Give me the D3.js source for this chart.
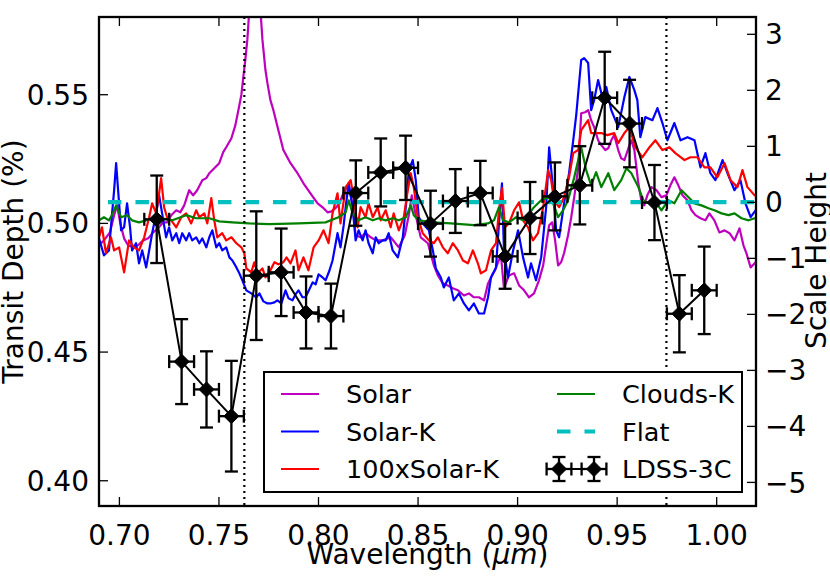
<!DOCTYPE html>
<html><head><meta charset="utf-8">
<script src="https://cdn.jsdelivr.net/npm/d3@7"></script>
<style>
body{margin:0;background:#fff}
svg{display:block}
text{font-family:"DejaVu Sans",sans-serif}
</style>
</head><body>
<svg id="c" width="830" height="581"></svg>
<script>
// ---------- DATA ----------
const xTicks = [0.70, 0.75, 0.80, 0.85, 0.90, 0.95, 1.00];
const yTicks = [0.40, 0.45, 0.50, 0.55];
const y2Ticks = [-5, -4, -3, -2, -1, 0, 1, 2, 3];
const xDomain = [0.69, 1.02];
const yDomain = [0.39, 0.58];
const y2Domain = [-5.43, 3.30];

const solar = [[0.6900,0.4913],[0.6925,0.4932],[0.6955,0.4963],[0.6976,0.5030],[0.6991,0.5068],[0.7006,0.5002],[0.7026,0.4940],[0.7046,0.4913],[0.7071,0.4905],[0.7096,0.4913],[0.7122,0.4932],[0.7147,0.4940],[0.7172,0.4963],[0.7197,0.4979],[0.7222,0.5002],[0.7242,0.5002],[0.7263,0.5030],[0.7288,0.5049],[0.7308,0.5041],[0.7328,0.5068],[0.7353,0.5127],[0.7373,0.5107],[0.7393,0.5127],[0.7419,0.5166],[0.7439,0.5174],[0.7454,0.5193],[0.7479,0.5212],[0.7504,0.5232],[0.7524,0.5275],[0.7539,0.5294],[0.7565,0.5329],[0.7585,0.5380],[0.7600,0.5438],[0.7615,0.5497],[0.7625,0.5567],[0.7635,0.5633],[0.7645,0.5711],[0.7650,0.5769],[0.7655,0.5827],[0.7665,0.6800],[0.7682,0.6400],[0.7700,0.6800],[0.7711,0.5827],[0.7721,0.5711],[0.7736,0.5594],[0.7746,0.5543],[0.7761,0.5477],[0.7776,0.5438],[0.7801,0.5360],[0.7826,0.5283],[0.7862,0.5232],[0.7897,0.5193],[0.7927,0.5154],[0.7962,0.5115],[0.7998,0.5076],[0.8028,0.5057],[0.8048,0.5041],[0.8068,0.5045],[0.8093,0.5061],[0.8113,0.5088],[0.8134,0.5127],[0.8154,0.5146],[0.8174,0.5068],[0.8189,0.4952],[0.8214,0.4944],[0.8239,0.4960],[0.8265,0.4944],[0.8290,0.4932],[0.8325,0.4932],[0.8365,0.4944],[0.8406,0.4905],[0.8436,0.4952],[0.8456,0.5030],[0.8471,0.5107],[0.8491,0.5030],[0.8516,0.4944],[0.8552,0.4921],[0.8582,0.4835],[0.8602,0.4796],[0.8627,0.4765],[0.8652,0.4757],[0.8677,0.4746],[0.8703,0.4738],[0.8733,0.4718],[0.8758,0.4726],[0.8783,0.4711],[0.8808,0.4711],[0.8834,0.4699],[0.8854,0.4765],[0.8874,0.4796],[0.8889,0.4816],[0.8904,0.4847],[0.8919,0.4874],[0.8934,0.4746],[0.8959,0.4796],[0.8985,0.4804],[0.9010,0.4757],[0.9035,0.4738],[0.9060,0.4711],[0.9085,0.4726],[0.9110,0.4777],[0.9131,0.4835],[0.9146,0.4913],[0.9161,0.4991],[0.9176,0.5002],[0.9191,0.4932],[0.9206,0.4835],[0.9221,0.4847],[0.9236,0.4882],[0.9256,0.4952],[0.9272,0.5022],[0.9292,0.5127],[0.9307,0.5216],[0.9322,0.5426],[0.9342,0.5430],[0.9357,0.5438],[0.9372,0.5399],[0.9387,0.5372],[0.9407,0.5321],[0.9423,0.5302],[0.9443,0.5283],[0.9458,0.5290],[0.9473,0.5321],[0.9488,0.5341],[0.9508,0.5283],[0.9523,0.5251],[0.9539,0.5244],[0.9559,0.5290],[0.9574,0.5321],[0.9589,0.5283],[0.9609,0.5154],[0.9624,0.5088],[0.9639,0.5068],[0.9654,0.5107],[0.9675,0.5139],[0.9700,0.5127],[0.9725,0.5100],[0.9750,0.5107],[0.9770,0.5146],[0.9790,0.5177],[0.9810,0.5146],[0.9831,0.5107],[0.9856,0.5088],[0.9876,0.5049],[0.9896,0.5030],[0.9921,0.5018],[0.9946,0.5010],[0.9966,0.5037],[0.9991,0.5010],[1.0016,0.4963],[1.0042,0.4971],[1.0067,0.4960],[1.0092,0.4932],[1.0117,0.4979],[1.0137,0.4913],[1.0152,0.4882],[1.0173,0.4827],[1.0198,0.4847],[1.0210,0.4850]];

const solarK = [[0.6900,0.4940],[0.6925,0.4874],[0.6950,0.4893],[0.6965,0.5030],[0.6976,0.5127],[0.6986,0.5232],[0.6996,0.5127],[0.7011,0.4971],[0.7026,0.4983],[0.7041,0.5076],[0.7056,0.4983],[0.7066,0.4893],[0.7086,0.4921],[0.7101,0.4843],[0.7117,0.4893],[0.7137,0.4827],[0.7152,0.4893],[0.7167,0.4960],[0.7187,0.5037],[0.7202,0.5107],[0.7217,0.5037],[0.7237,0.4944],[0.7252,0.4983],[0.7268,0.4932],[0.7288,0.4960],[0.7303,0.4921],[0.7318,0.4960],[0.7338,0.4932],[0.7353,0.4960],[0.7368,0.4932],[0.7388,0.4944],[0.7404,0.4921],[0.7419,0.4940],[0.7439,0.4905],[0.7454,0.4944],[0.7469,0.4971],[0.7489,0.4905],[0.7504,0.4921],[0.7519,0.4893],[0.7539,0.4905],[0.7555,0.4866],[0.7570,0.4854],[0.7590,0.4827],[0.7605,0.4804],[0.7620,0.4777],[0.7640,0.4738],[0.7665,0.4726],[0.7690,0.4711],[0.7706,0.4726],[0.7726,0.4695],[0.7746,0.4687],[0.7761,0.4687],[0.7781,0.4691],[0.7796,0.4699],[0.7816,0.4687],[0.7837,0.4738],[0.7852,0.4707],[0.7872,0.4699],[0.7887,0.4722],[0.7902,0.4738],[0.7922,0.4711],[0.7937,0.4711],[0.7952,0.4734],[0.7973,0.4769],[0.7988,0.4761],[0.8003,0.4800],[0.8023,0.4788],[0.8038,0.4777],[0.8058,0.4816],[0.8073,0.4854],[0.8098,0.4960],[0.8113,0.4905],[0.8129,0.4991],[0.8139,0.5061],[0.8154,0.5154],[0.8174,0.5061],[0.8189,0.4932],[0.8204,0.4971],[0.8224,0.4932],[0.8239,0.4971],[0.8254,0.4921],[0.8275,0.4882],[0.8290,0.4944],[0.8305,0.4921],[0.8325,0.4932],[0.8340,0.4932],[0.8355,0.4960],[0.8375,0.4893],[0.8401,0.4866],[0.8426,0.4944],[0.8441,0.5061],[0.8456,0.5205],[0.8476,0.5244],[0.8491,0.5166],[0.8506,0.5022],[0.8526,0.4998],[0.8557,0.4971],[0.8577,0.4893],[0.8592,0.4823],[0.8617,0.4788],[0.8632,0.4749],[0.8657,0.4788],[0.8682,0.4699],[0.8708,0.4726],[0.8733,0.4687],[0.8758,0.4660],[0.8783,0.4687],[0.8808,0.4648],[0.8834,0.4648],[0.8854,0.4711],[0.8869,0.4788],[0.8894,0.4827],[0.8909,0.4998],[0.8924,0.5154],[0.8934,0.4893],[0.8954,0.4788],[0.8980,0.4893],[0.9005,0.4971],[0.9030,0.4866],[0.9055,0.4788],[0.9070,0.4843],[0.9095,0.4777],[0.9121,0.4866],[0.9146,0.5061],[0.9161,0.5294],[0.9181,0.5127],[0.9196,0.4971],[0.9211,0.4944],[0.9236,0.5076],[0.9261,0.5193],[0.9282,0.5321],[0.9297,0.5419],[0.9322,0.5633],[0.9337,0.5640],[0.9357,0.5621],[0.9372,0.5438],[0.9387,0.5477],[0.9407,0.5555],[0.9428,0.5489],[0.9448,0.5528],[0.9473,0.5438],[0.9508,0.5372],[0.9539,0.5489],[0.9564,0.5567],[0.9589,0.5516],[0.9604,0.5477],[0.9619,0.5333],[0.9644,0.5411],[0.9680,0.5399],[0.9705,0.5446],[0.9730,0.5388],[0.9755,0.5321],[0.9790,0.5388],[0.9821,0.5321],[0.9856,0.5333],[0.9891,0.5321],[0.9921,0.5216],[0.9946,0.5271],[0.9971,0.5193],[0.9996,0.5166],[1.0032,0.5244],[1.0057,0.5193],[1.0092,0.5127],[1.0122,0.5166],[1.0147,0.5076],[1.0173,0.5022],[1.0198,0.5049],[1.0210,0.5060]];

const solar100K = [[0.6900,0.4944],[0.6915,0.4983],[0.6935,0.4882],[0.6960,0.4944],[0.6976,0.4893],[0.7001,0.4905],[0.7026,0.4808],[0.7051,0.4932],[0.7076,0.4905],[0.7101,0.4893],[0.7127,0.4944],[0.7152,0.5022],[0.7167,0.5076],[0.7187,0.5037],[0.7202,0.5115],[0.7212,0.5174],[0.7227,0.5061],[0.7242,0.5022],[0.7263,0.5010],[0.7288,0.4983],[0.7313,0.5022],[0.7338,0.5037],[0.7363,0.4998],[0.7388,0.5049],[0.7404,0.5022],[0.7429,0.5037],[0.7444,0.4998],[0.7464,0.5096],[0.7479,0.5010],[0.7494,0.4944],[0.7519,0.4960],[0.7539,0.4932],[0.7565,0.4944],[0.7590,0.4921],[0.7615,0.4905],[0.7630,0.4882],[0.7640,0.4823],[0.7665,0.4808],[0.7680,0.4847],[0.7696,0.4804],[0.7721,0.4823],[0.7736,0.4788],[0.7761,0.4816],[0.7781,0.4847],[0.7801,0.4839],[0.7826,0.4847],[0.7842,0.4866],[0.7862,0.4843],[0.7887,0.4893],[0.7902,0.4816],[0.7927,0.4866],[0.7952,0.4816],[0.7978,0.4905],[0.8003,0.4932],[0.8028,0.4971],[0.8053,0.4921],[0.8073,0.5037],[0.8098,0.5115],[0.8113,0.4998],[0.8139,0.5139],[0.8164,0.5166],[0.8179,0.5100],[0.8199,0.4983],[0.8214,0.5061],[0.8239,0.5022],[0.8254,0.5076],[0.8275,0.5022],[0.8300,0.5061],[0.8315,0.5010],[0.8340,0.5049],[0.8365,0.4983],[0.8380,0.5037],[0.8406,0.4971],[0.8431,0.5022],[0.8451,0.5127],[0.8466,0.5193],[0.8481,0.5139],[0.8501,0.5022],[0.8526,0.4960],[0.8557,0.4932],[0.8582,0.4921],[0.8602,0.4944],[0.8627,0.4905],[0.8652,0.4882],[0.8677,0.4921],[0.8703,0.4893],[0.8728,0.4854],[0.8753,0.4843],[0.8778,0.4893],[0.8803,0.4843],[0.8818,0.4804],[0.8844,0.4816],[0.8869,0.4893],[0.8894,0.4921],[0.8909,0.5049],[0.8924,0.5135],[0.8939,0.4983],[0.8959,0.4998],[0.8985,0.5049],[0.9010,0.5080],[0.9030,0.5010],[0.9055,0.4983],[0.9080,0.4932],[0.9105,0.4960],[0.9131,0.5061],[0.9156,0.5205],[0.9171,0.5166],[0.9186,0.5088],[0.9211,0.5061],[0.9236,0.5100],[0.9261,0.5177],[0.9282,0.5271],[0.9307,0.5283],[0.9322,0.5360],[0.9357,0.5399],[0.9372,0.5349],[0.9402,0.5349],[0.9423,0.5349],[0.9453,0.5341],[0.9488,0.5349],[0.9508,0.5310],[0.9539,0.5349],[0.9564,0.5372],[0.9594,0.5294],[0.9629,0.5255],[0.9665,0.5294],[0.9695,0.5321],[0.9730,0.5283],[0.9765,0.5294],[0.9795,0.5271],[0.9841,0.5244],[0.9871,0.5255],[0.9906,0.5255],[0.9941,0.5216],[0.9971,0.5216],[1.0006,0.5177],[1.0042,0.5232],[1.0072,0.5166],[1.0107,0.5139],[1.0132,0.5205],[1.0157,0.5139],[1.0193,0.5107],[1.0210,0.5110]];

const cloudsK = [[0.6900,0.5010],[0.6925,0.5022],[0.6950,0.5010],[0.6965,0.5030],[0.6986,0.5068],[0.7011,0.5022],[0.7041,0.5030],[0.7066,0.5010],[0.7101,0.5002],[0.7137,0.5010],[0.7167,0.5018],[0.7217,0.5018],[0.7268,0.5010],[0.7338,0.5030],[0.7388,0.5018],[0.7454,0.5018],[0.7504,0.5006],[0.7570,0.5002],[0.7655,0.4998],[0.7756,0.4995],[0.7902,0.4998],[0.8038,0.5002],[0.8103,0.5022],[0.8139,0.5041],[0.8154,0.5088],[0.8174,0.5037],[0.8204,0.5010],[0.8239,0.5022],[0.8275,0.5010],[0.8305,0.5018],[0.8340,0.5010],[0.8375,0.5018],[0.8406,0.5010],[0.8441,0.5022],[0.8466,0.5068],[0.8481,0.5030],[0.8506,0.5010],[0.8577,0.5002],[0.8667,0.4998],[0.8783,0.4991],[0.8854,0.4998],[0.8884,0.5010],[0.8909,0.5061],[0.8929,0.5010],[0.8959,0.5002],[0.8995,0.5022],[0.9030,0.5010],[0.9055,0.5030],[0.9085,0.5061],[0.9121,0.5088],[0.9156,0.5100],[0.9181,0.5076],[0.9206,0.5022],[0.9231,0.5049],[0.9256,0.5088],[0.9287,0.5177],[0.9322,0.5294],[0.9347,0.5205],[0.9372,0.5146],[0.9397,0.5197],[0.9423,0.5139],[0.9458,0.5193],[0.9488,0.5127],[0.9523,0.5166],[0.9549,0.5212],[0.9574,0.5193],[0.9609,0.5139],[0.9634,0.5088],[0.9660,0.5076],[0.9690,0.5088],[0.9725,0.5049],[0.9760,0.5088],[0.9790,0.5076],[0.9826,0.5127],[0.9861,0.5100],[0.9891,0.5076],[0.9926,0.5068],[0.9961,0.5057],[0.9991,0.5049],[1.0027,0.5037],[1.0062,0.5030],[1.0092,0.5037],[1.0127,0.5018],[1.0163,0.5010],[1.0193,0.5018],[1.0210,0.5015]];

const flat = [[0.6945,0.5081],[1.0210,0.5081]];
const markerWl = [0.763, 0.975];

const ldssWl    = [0.7190,0.7315,0.7440,0.7565,0.7690,0.7815,0.7940,0.8065,0.8190,0.8315,0.8440,0.8565,0.8690,0.8815,0.8940,0.9065,0.9190,0.9315,0.9440,0.9565,0.9690,0.9815,0.9940];
const ldssDepth = [0.5014,0.4461,0.4353,0.4249,0.4795,0.4808,0.4652,0.4638,0.5116,0.5196,0.5214,0.4997,0.5085,0.5116,0.4870,0.5019,0.5103,0.5146,0.5486,0.5386,0.5079,0.4647,0.4738];
const ldssErr   = [0.0170,0.0165,0.0148,0.0215,0.0250,0.0170,0.0140,0.0126,0.0127,0.0132,0.0125,0.0128,0.0124,0.0125,0.0126,0.0140,0.0132,0.0152,0.0179,0.0170,0.0146,0.0150,0.0170];
const ldssXErr  = 0.00625;

const legendLabels = ["Solar","Solar-K","100xSolar-K","Clouds-K","Flat","LDSS-3C"];
const colors = {solar:"#bf00bf", solarK:"#0000ff", solar100K:"#ff0000", cloudsK:"#008000", flat:"#00bfbf", data:"#000000"};

// ---------- CHART ----------
const m = {l:99, t:17, r:756, b:506};
const FS = 28;      // tick labels & axis titles
const LFS = 25.5;   // legend
const svg = d3.select("#c");
const x = d3.scaleLinear().domain(xDomain).range([m.l, m.r]);
const y = d3.scaleLinear().domain(yDomain).range([m.b, m.t]);
const y2 = d3.scaleLinear().domain(y2Domain).range([m.b, m.t]);

svg.append("defs").append("clipPath").attr("id","clip")
  .append("rect").attr("x",m.l).attr("y",m.t).attr("width",m.r-m.l).attr("height",m.b-m.t);
const plot = svg.append("g").attr("clip-path","url(#clip)");

const line = d3.line().x(d=>x(d[0])).y(d=>y(d[1]));
const models = [
  {data:solar, color:colors.solar},
  {data:solarK, color:colors.solarK},
  {data:solar100K, color:colors.solar100K},
  {data:cloudsK, color:colors.cloudsK}
];
models.forEach(mo=>{
  plot.append("path").datum(mo.data).attr("d",line)
    .attr("fill","none").attr("stroke",mo.color).attr("stroke-width",2.2)
    .attr("stroke-linejoin","round");
});
plot.append("path").datum(flat).attr("d",line)
  .attr("fill","none").attr("stroke",colors.flat).attr("stroke-width",4.2)
  .attr("stroke-dasharray","13.5,14");

plot.selectAll(".vline").data(markerWl).join("line").attr("class","vline")
  .attr("x1",d=>x(d)).attr("x2",d=>x(d)).attr("y1",m.t).attr("y2",m.b)
  .attr("stroke","#000").attr("stroke-width",2.2).attr("stroke-dasharray","2,4");

const pts = ldssWl.map((w,i)=>({w, d:ldssDepth[i], e:ldssErr[i], xe:ldssXErr}));
const dg = svg.append("g");
dg.append("path").datum(pts)
  .attr("d", d3.line().x(p=>x(p.w)).y(p=>y(p.d)))
  .attr("fill","none").attr("stroke","#000").attr("stroke-width",2);

function drawErr(g, cx, cy, yTop, yBot, xL, xR){
  const cap = 6.5;
  g.append("line").attr("x1",cx).attr("x2",cx).attr("y1",yTop).attr("y2",yBot);
  g.append("line").attr("x1",cx-cap).attr("x2",cx+cap).attr("y1",yTop).attr("y2",yTop);
  g.append("line").attr("x1",cx-cap).attr("x2",cx+cap).attr("y1",yBot).attr("y2",yBot);
  g.append("line").attr("x1",xL).attr("x2",xR).attr("y1",cy).attr("y2",cy);
  g.append("line").attr("x1",xL).attr("x2",xL).attr("y1",cy-cap).attr("y2",cy+cap);
  g.append("line").attr("x1",xR).attr("x2",xR).attr("y1",cy-cap).attr("y2",cy+cap);
}
function diamond(g, cx, cy, r){
  g.append("path").attr("d",`M${cx},${cy-r}L${cx+r},${cy}L${cx},${cy+r}L${cx-r},${cy}Z`)
    .attr("fill","#000").attr("stroke","#000").attr("stroke-width",1);
}
const eg = dg.append("g").attr("stroke","#000").attr("stroke-width",2.3);
pts.forEach(p=>{
  drawErr(eg, x(p.w), y(p.d), y(p.d+p.e), y(p.d-p.e), x(p.w-p.xe), x(p.w+p.xe));
});
pts.forEach(p=>diamond(dg, x(p.w), y(p.d), 7.5));

// frame
svg.append("rect").attr("x",m.l).attr("y",m.t).attr("width",m.r-m.l).attr("height",m.b-m.t)
  .attr("fill","none").attr("stroke","#000").attr("stroke-width",2.3);

// axes
function styleAxis(g){
  g.select(".domain").remove();
  g.attr("font-size",FS).attr("font-family","DejaVu Sans");
  g.selectAll(".tick line").attr("stroke-width",1.3);
}
const axB = svg.append("g").attr("transform",`translate(0,${m.b})`)
  .call(d3.axisBottom(x).tickValues(xTicks).tickFormat(d3.format(".2f")).tickSizeInner(-9).tickSizeOuter(0).tickPadding(0));
styleAxis(axB);
axB.selectAll("text").attr("y",39).attr("dy",null);

const axT = svg.append("g").attr("transform",`translate(0,${m.t})`)
  .call(d3.axisTop(x).tickValues(xTicks).tickFormat(()=>"").tickSizeInner(-9).tickSizeOuter(0));
styleAxis(axT);

const axL = svg.append("g").attr("transform",`translate(${m.l},0)`)
  .call(d3.axisLeft(y).tickValues(yTicks).tickFormat(d3.format(".2f")).tickSizeInner(-9).tickSizeOuter(0).tickPadding(10));
styleAxis(axL);
axL.selectAll("text").attr("dy","0.36em");

const axR = svg.append("g").attr("transform",`translate(${m.r},0)`)
  .call(d3.axisRight(y2).tickValues(y2Ticks).tickFormat(d3.format("d")).tickSizeInner(-9).tickSizeOuter(0).tickPadding(9));
styleAxis(axR);
axR.selectAll("text").attr("dy","0.36em");

// titles
const xt = svg.append("text").attr("x",(m.l+m.r)/2).attr("y",564)
  .attr("text-anchor","middle").attr("font-size",FS);
xt.append("tspan").text("Wavelength (");
xt.append("tspan").attr("font-style","italic").text("μm");
xt.append("tspan").text(")");

svg.append("text").attr("transform",`translate(22.5,${(m.t+m.b)/2}) rotate(-90)`)
  .attr("text-anchor","middle").attr("font-size",FS).text("Transit Depth (%)");
svg.append("text").attr("transform",`translate(826,260.5) rotate(-90)`)
  .attr("text-anchor","middle").attr("font-size",FS).text("Scale Height");

// legend
const lg = svg.append("g");
lg.append("rect").attr("x",264).attr("y",372).attr("width",478).attr("height",120)
  .attr("fill","#fff").attr("stroke","#000").attr("stroke-width",2);
const rows = [394, 431.5, 469];
const col1 = {lx1:281, lx2:319, tx:346};
const col2 = {lx1:557, lx2:595, tx:622};
const legItems = [
  {label:legendLabels[0], col:col1, row:0, color:colors.solar, type:"line"},
  {label:legendLabels[1], col:col1, row:1, color:colors.solarK, type:"line"},
  {label:legendLabels[2], col:col1, row:2, color:colors.solar100K, type:"line"},
  {label:legendLabels[3], col:col2, row:0, color:colors.cloudsK, type:"line"},
  {label:legendLabels[4], col:col2, row:1, color:colors.flat, type:"dash"},
  {label:legendLabels[5], col:col2, row:2, color:colors.data, type:"err"}
];
legItems.forEach(it=>{
  const ry = rows[it.row];
  if(it.type==="line"){
    lg.append("line").attr("x1",it.col.lx1).attr("x2",it.col.lx2).attr("y1",ry).attr("y2",ry)
      .attr("stroke",it.color).attr("stroke-width",2.2);
  } else if(it.type==="dash"){
    lg.append("line").attr("x1",it.col.lx1).attr("x2",it.col.lx2).attr("y1",ry).attr("y2",ry)
      .attr("stroke",it.color).attr("stroke-width",4.2).attr("stroke-dasharray","13.5,14");
  } else {
    const ax1 = 559, ax2 = 594;
    lg.append("line").attr("x1",ax1).attr("x2",ax2).attr("y1",ry).attr("y2",ry)
      .attr("stroke","#000").attr("stroke-width",2);
    const leg = lg.append("g").attr("stroke","#000").attr("stroke-width",2.3);
    [ax1,ax2].forEach(cx=>drawErr(leg, cx, ry, ry-12, ry+12, cx-12.4, cx+12.4));
    [ax1,ax2].forEach(cx=>diamond(lg, cx, ry, 7.5));
  }
  lg.append("text").attr("x",it.col.tx).attr("y",ry).attr("dy","0.37em")
    .attr("font-size",LFS).text(it.label);
});
</script>
</body></html>
